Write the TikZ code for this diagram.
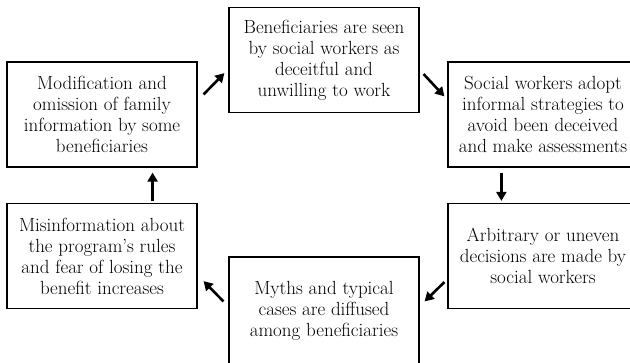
\documentclass[tikz,border=0pt]{standalone}
\usetikzlibrary{arrows.meta}
\begin{document}
\begin{tikzpicture}[x=1pt,y=1pt,
  box/.style={draw,line width=1.2pt,minimum width=190pt,minimum height=105pt,inner sep=0pt,align=center,font=\fontsize{19}{21}\selectfont},
  flow/.style={line width=2.6pt,-{Triangle[length=9pt,width=10pt]}}]
\useasboundingbox (0,0) rectangle (630,362);
\clip (0,0) rectangle (630,362);
\node[box] (modif) at (102,247.5) {Modification and\\omission of family\\information by some\\beneficiaries};
\node[box] (seen) at (324,302) {Beneficiaries are seen\\by social workers as\\deceitful and\\unwilling to work};
\node[box] (adopt) at (543,247.5) {Social workers adopt\\informal strategies to\\avoid been deceived\\and make assessments};
\node[box] (arbit) at (543,106) {Arbitrary or uneven\\decisions are made by\\social workers};
\node[box,minimum height=108pt] (myths) at (324,51) {Myths and typical\\cases are diffused\\among beneficiaries};
\node[box] (misinf) at (102,106) {Misinformation about\\the program's rules\\and fear of losing the\\benefit increases};
\draw[flow] ([shift={(6,-33)}]modif.north east) -- ([shift={(-4,40)}]seen.south west);
\draw[flow] ([shift={(4,39)}]seen.south east) -- ([shift={(-3,-35)}]adopt.north west);
\draw[flow] ([shift={(54,-5)}]adopt.south west) -- ([shift={(54,2)}]arbit.north west);
\draw[flow] ([shift={(-3,27)}]arbit.south west) -- ([shift={(5,-45)}]myths.north east);
\draw[flow] ([shift={(-5,-45)}]myths.north west) -- ([shift={(6,28)}]misinf.south east);
\draw[flow] ([shift={(-45,2)}]misinf.north east) -- ([shift={(-45,-5)}]modif.south east);
\end{tikzpicture}
\end{document}
